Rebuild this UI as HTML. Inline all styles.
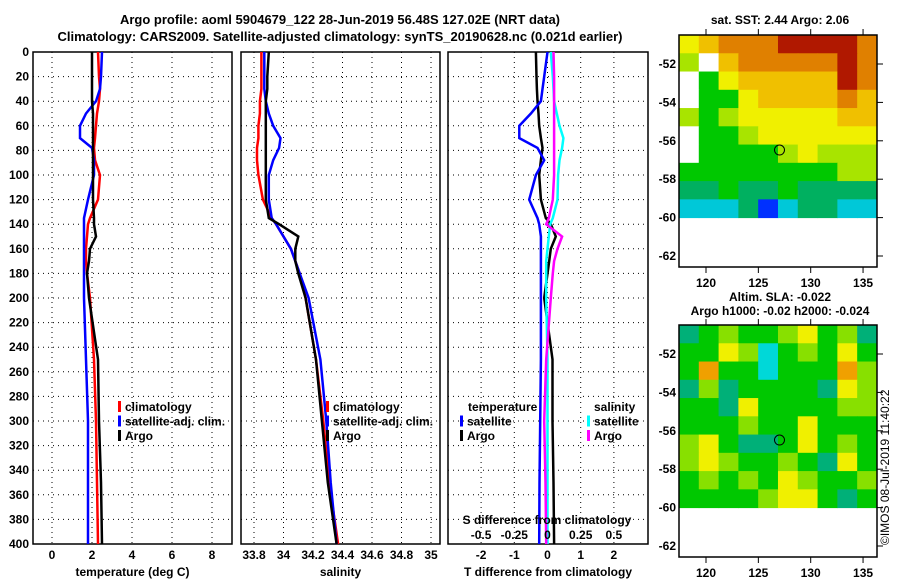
<!DOCTYPE html>
<html><head><meta charset="utf-8"><style>
body{margin:0;background:#fff}
svg{display:block;font-family:"Liberation Sans",sans-serif;font-weight:bold;font-size:12px}
</style></head><body>
<svg id="c" width="900" height="580" viewBox="0 0 900 580">
<text x="340" y="24" text-anchor="middle" font-size="13">Argo profile: aoml 5904679_122 28-Jun-2019 56.48S 127.02E (NRT data)</text>
<text x="340" y="41" text-anchor="middle" font-size="13">Climatology: CARS2009. Satellite-adjusted climatology: synTS_20190628.nc (0.021d earlier)</text>
<text x="780" y="24" text-anchor="middle">sat. SST: 2.44 Argo: 2.06</text>
<text x="780" y="301" text-anchor="middle">Altim. SLA: -0.022</text>
<text x="780" y="315" text-anchor="middle">Argo h1000: -0.02 h2000: -0.024</text>
<text transform="translate(889,545) rotate(-90)" font-weight="normal" font-size="12">©IMOS 08-Jul-2019 11:40:22</text>
</svg>
<script>
// ---- data ----
const depths=[0,20,30,40,50,60,70,78,88,100,120,135,140,150,160,170,180,200,250,300,350,400];
const tempClim=[2.3,2.35,2.4,2.35,2.25,2.2,2.15,2.1,2.15,2.4,2.3,1.9,1.8,1.75,1.7,1.7,1.75,1.9,2.1,2.2,2.25,2.3];
const tempSat=[2.5,2.45,2.4,2.2,1.7,1.4,1.4,2.0,2.1,2.1,1.8,1.6,1.6,1.6,1.6,1.6,1.6,1.6,1.7,1.8,1.8,1.8];
const tempArgo=[2.0,2.0,2.0,2.0,2.05,2.05,2.05,2.05,2.05,2.05,2.05,2.1,2.1,2.2,1.9,1.85,1.75,1.85,2.3,2.35,2.45,2.5];
const salClim=[33.85,33.85,33.85,33.84,33.84,33.83,33.83,33.82,33.82,33.83,33.86,33.92,33.95,34.0,34.05,34.08,34.11,34.15,34.22,34.27,34.31,34.37];
const salSat=[33.87,33.87,33.87,33.88,33.9,33.93,33.98,33.97,33.93,33.9,33.9,33.92,33.95,34.0,34.05,34.08,34.11,34.17,34.25,34.29,34.32,34.36];
const salArgo=[33.9,33.89,33.89,33.88,33.88,33.88,33.88,33.88,33.88,33.88,33.88,33.9,33.97,34.1,34.08,34.08,34.1,34.15,34.22,34.26,34.3,34.36];
const tDiffSat=[0.0,-0.1,-0.15,-0.2,-0.5,-0.85,-0.85,-0.3,-0.1,-0.35,-0.55,-0.3,-0.25,-0.2,-0.2,-0.2,-0.2,-0.2,-0.2,-0.22,-0.24,-0.25];
const tDiffArgo=[-0.35,-0.33,-0.32,-0.3,-0.27,-0.25,-0.2,-0.15,-0.2,-0.25,-0.2,-0.05,0.1,0.25,0.1,0.05,0.0,-0.1,0.15,0.15,0.18,0.2];
const sDiffSat=[0.025,0.04,0.045,0.05,0.07,0.09,0.12,0.11,0.09,0.08,0.075,0.04,0.02,0.01,0.0,-0.01,-0.01,-0.01,0.0,0.0,0.0,0.0];
const sDiffArgo=[0.045,0.05,0.05,0.05,0.05,0.05,0.05,0.05,0.05,0.05,0.04,0.01,-0.01,0.11,0.075,0.05,0.04,0.025,-0.01,-0.025,-0.015,-0.01];
const depthTicks=[0,20,40,60,80,100,120,140,160,180,200,220,240,260,280,300,320,340,360,380,400];
const tempTicks=[0,2,4,6,8];
const salTicks=[33.8,34,34.2,34.4,34.6,34.8,35];
const tdTicks=[-2,-1,0,1,2];
const sdTicks=[-0.5,-0.25,0,0.25,0.5];
const lonTicks=[120,125,130,135];
const latTicks=[-52,-54,-56,-58,-60,-62];
const sstGrid=[
[6,7,8,8,8,9,9,9,9,8],[5,0,7,8,8,8,8,8,9,8],[0,4,6,7,7,7,7,7,9,8],[0,4,4,6,7,7,7,7,8,7],
[5,4,5,6,6,6,6,6,7,7],[0,4,4,5,6,6,6,6,6,6],[0,4,4,4,4,5,6,5,5,5],[4,4,4,4,4,4,4,4,5,5],
[3,3,4,3,3,4,3,3,3,3],[2,2,2,3,1,2,3,3,2,2]];
const slaGrid=[
[1,2,3,2,2,3,4,2,3,1],[2,2,4,3,6,2,3,2,4,2],[2,5,2,2,6,2,2,2,5,3],[1,3,1,2,2,2,2,1,4,3],
[2,2,1,4,2,2,2,2,3,3],[2,2,2,3,2,2,4,2,2,2],[3,4,2,1,1,2,4,2,3,2],[3,4,3,2,2,3,2,1,4,2],
[2,3,2,3,2,4,3,2,2,3],[2,2,2,2,3,4,4,2,1,2]];
const argoLon=127.02, argoLat=-56.48;

const NS='http://www.w3.org/2000/svg';
const svg=document.getElementById('c');
function mk(t,a,p){const e=document.createElementNS(NS,t);for(const k in a)e.setAttribute(k,a[k]);(p||svg).appendChild(e);return e;}
const top0=52,bot=544;
const yD=d=>top0+d*(bot-top0)/400;

function panel(name,x0,x1,xs,ticks,labels,xtitle,showY){
  const g=mk('g',{});
  
  
  ticks.forEach(t=>{const x=xs(t);const l=mk('line',{x1:x,x2:x,y1:top0,y2:bot,stroke:'#000','stroke-dasharray':'1,4'},g);
    });
  depthTicks.forEach(d=>{const y=yD(d);const l=mk('line',{x1:x0,x2:x1,y1:y,y2:y,stroke:'#000','stroke-dasharray':'1,4'},g);
    
    if(showY){const t=mk('text',{x:x0-4,y:y+4,'text-anchor':'end'},g);t.textContent=d;
      }});
  if(labels)ticks.forEach((t,i)=>{const e=mk('text',{x:xs(t),y:559,'text-anchor':'middle'},g);e.textContent=labels[i];
    });
  const tt=mk('text',{x:(x0+x1)/2,y:576,'text-anchor':'middle'},g);tt.textContent=xtitle;
  
  const r=mk('rect',{x:x0,y:top0,width:x1-x0,height:bot-top0,fill:'none',stroke:'#000','stroke-width':1.5},g);
  
  return g;
}
function line(vals,xs,color,name,w){
  const pts=vals.map((v,i)=>xs(v).toFixed(1)+','+yD(depths[i]).toFixed(1)).join(' ');
  const p=mk('polyline',{points:pts,fill:'none',stroke:color,'stroke-width':w||2.5});
  
  
}
function legend(x,y,items){
  items.forEach((it,i)=>{
    const b=mk('rect',{x:x,y:y+i*14.5-10,width:3,height:11,fill:it[1]});
    
    const t=mk('text',{x:x+7,y:y+i*14.5});t.textContent=it[0];
    
  });
}
// panel 1 temperature
const xT=v=>52+v*20;
panel('temperature-panel',33,232,xT,tempTicks,tempTicks.map(String),'temperature (deg C)',true);
line(tempClim,xT,'#f00','temp-climatology-line');
line(tempSat,xT,'#00f','temp-satellite-line');
line(tempArgo,xT,'#000','temp-argo-line');
legend(118,411,[['climatology','#f00'],['satellite-adj. clim.','#00f'],['Argo','#000']]);
// panel 2 salinity
const xS=v=>254+(v-33.8)*147.5;
panel('salinity-panel',241,440,xS,salTicks,salTicks.map(String),'salinity',false);
line(salClim,xS,'#f00','sal-climatology-line');
line(salSat,xS,'#00f','sal-satellite-line');
line(salArgo,xS,'#000','sal-argo-line');
legend(326,411,[['climatology','#f00'],['satellite-adj. clim.','#00f'],['Argo','#000']]);
// panel 3 differences
const xTd=v=>547.5+v*33.2, xSd=v=>547.5+v*132.8;
panel('difference-panel',448,648,xTd,tdTicks,tdTicks.map(String),'T difference from climatology',false);
line(tDiffArgo,xTd,'#000','tdiff-argo-line');
line(tDiffSat,xTd,'#00f','tdiff-satellite-line');
line(sDiffSat,xSd,'#0ff','sdiff-satellite-line');
line(sDiffArgo,xSd,'#f0f','sdiff-argo-line');
let t=mk('text',{x:468,y:411});t.textContent='temperature';

t=mk('text',{x:594,y:411});t.textContent='salinity';

legend(460,425.5,[['satellite','#00f'],['Argo','#000']]);
legend(587,425.5,[['satellite','#0ff'],['Argo','#f0f']]);
t=mk('text',{x:547,y:524,'text-anchor':'middle'});t.textContent='S difference from climatology';

sdTicks.forEach(v=>{const e=mk('text',{x:xSd(v),y:539,'text-anchor':'middle'});e.textContent=String(v);
  });

// maps
const sstCol=['#ffffff','#0030ff','#00c8d8','#00b060','#00c800','#a8e400','#f0f000','#f0c000','#e08000','#b01800'];
const slaCol=['#ffffff','#00b078','#00c800','#88e000','#f0f000','#f0a000','#00d8d8'];
function map(name,fy,grid,cols){
  const x0=679,x1=877,yTop=fy,yB=fy+232;
  const lx=lon=>706+(lon-120)*10.47;
  const ly=lat=>yTop+29+(-52-lat)*19.2;
  const g=mk('g',{});
  
  
  const lat0=-50.49,lat1=-60,lon0=117.42,lon1=136.33;
  const nr=grid.length,nc=grid[0].length;
  grid.forEach((row,i)=>row.forEach((v,j)=>{
    const xa=lx(lon0+(lon1-lon0)*j/nc),xb=lx(lon0+(lon1-lon0)*(j+1)/nc);
    const ya=ly(lat0+(lat1-lat0)*i/nr),yb=ly(lat0+(lat1-lat0)*(i+1)/nr);
    const r=mk('rect',{x:xa,y:ya,width:xb-xa+0.5,height:yb-ya+0.5,fill:cols[v]},g);
    
    
  }));
  const c=mk('circle',{cx:lx(argoLon),cy:ly(argoLat),r:5,fill:'none',stroke:'#000'},g);
  
  const fr=mk('rect',{x:x0,y:yTop,width:x1-x0,height:yB-yTop,fill:'none',stroke:'#000','stroke-width':1.5},g);
  
  lonTicks.forEach(l=>{const x=lx(l);
    mk('line',{x1:x,x2:x,y1:yTop-6,y2:yTop,stroke:'#000'},g);
    mk('line',{x1:x,x2:x,y1:yB,y2:yB+6,stroke:'#000'},g);
    const e=mk('text',{x:x,y:yB+20,'text-anchor':'middle'},g);e.textContent=l;
    });
  latTicks.forEach(l=>{const y=ly(l);
    mk('line',{x1:x1,x2:x1+6,y1:y,y2:y,stroke:'#000'},g);
    const e=mk('text',{x:676,y:y+4,'text-anchor':'end'},g);e.textContent=l;
    });
}
map('sst-map',35,sstGrid,sstCol);
map('sla-map',325,slaGrid,slaCol);
</script>
</body></html>
